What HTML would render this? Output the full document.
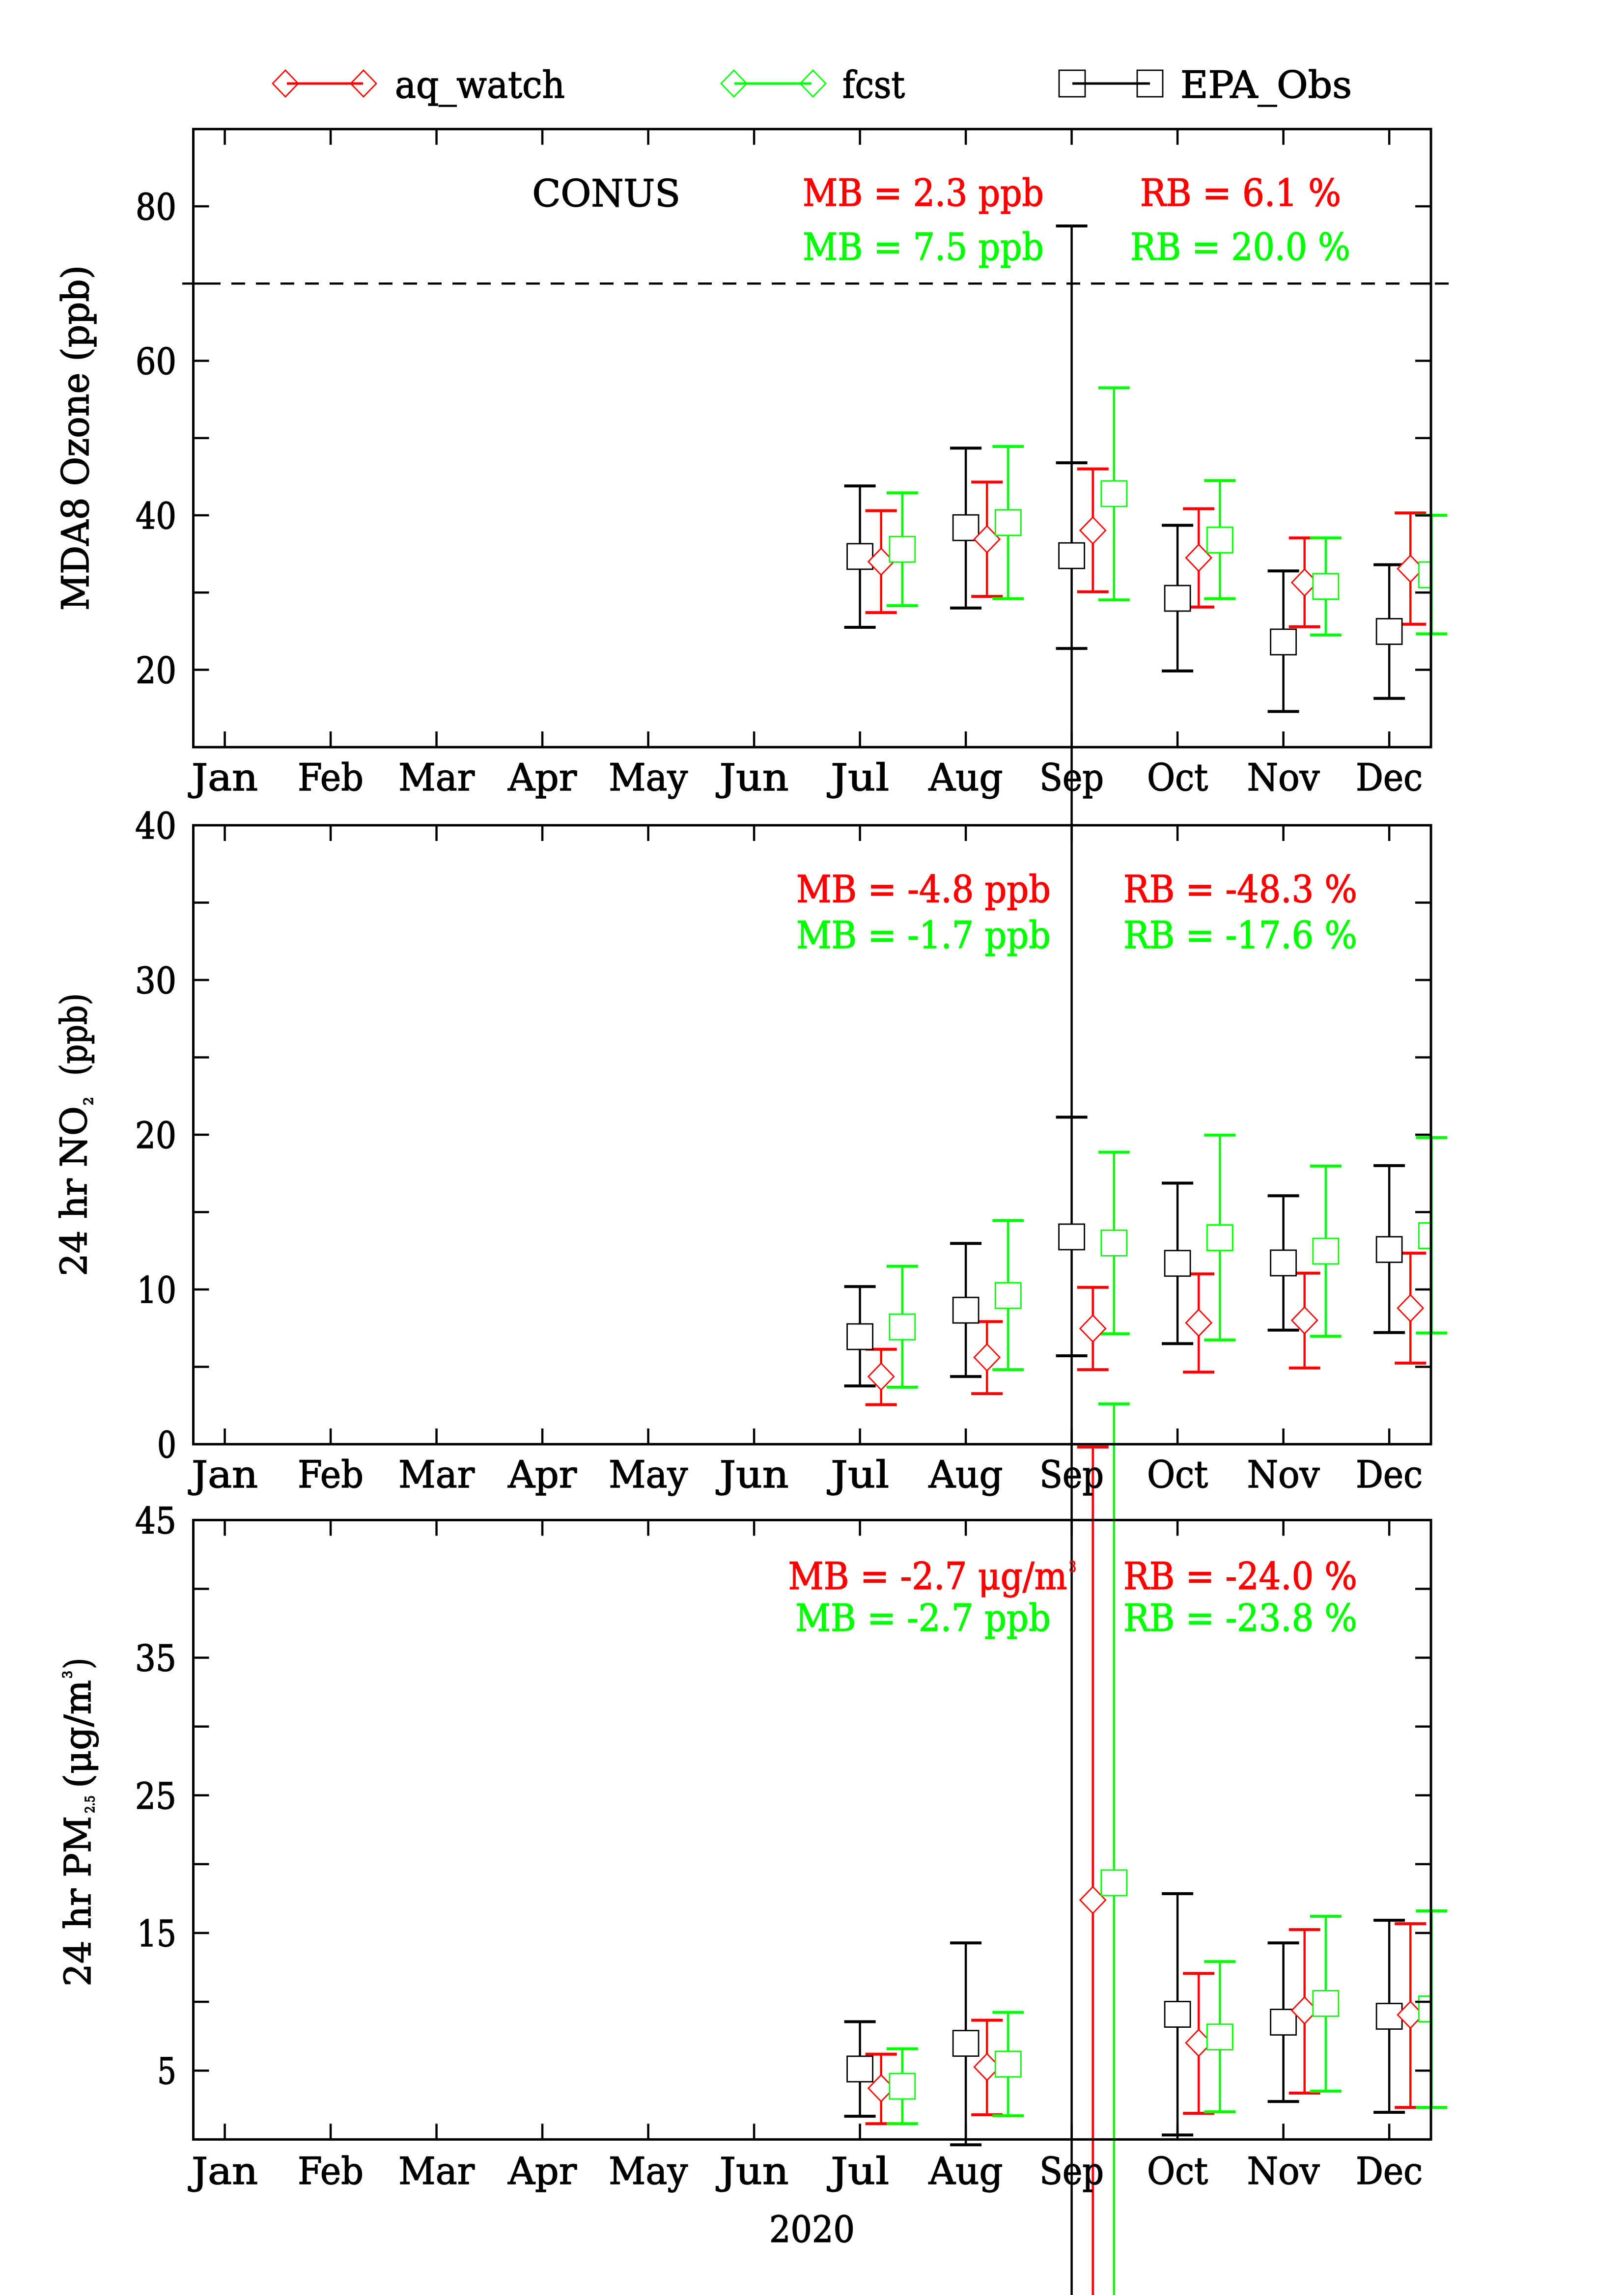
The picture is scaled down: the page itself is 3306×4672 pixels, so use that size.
<!DOCTYPE html>
<html><head><meta charset="utf-8"><style>
html,body{margin:0;padding:0;background:#fff;}
svg{display:block;}
text{font-family:"DejaVu Serif","Liberation Serif",serif;stroke-width:1.5px;}
</style></head><body>
<svg xmlns="http://www.w3.org/2000/svg" width="3306" height="4672" viewBox="0 0 3306 4672">
<rect width="3306" height="4672" fill="#fff"/>
<defs>
<clipPath id="c1"><rect x="393.5" y="262.75" width="2519.5" height="1258.25"/></clipPath>
<clipPath id="c2"><rect x="393.5" y="1680" width="2519.5" height="1260"/></clipPath>
<clipPath id="c3"><rect x="393.5" y="3094.4" width="2519.5" height="1260.9"/></clipPath>
</defs>

<line x1="371" y1="577.25" x2="2958" y2="577.25" stroke="#000" stroke-width="4.5" stroke-dasharray="28 22"/>

<g fill="none" stroke-width="4.5">
<path stroke="#000" d="M1750.6 989.2V1277M1966.1 912.2V1237.7M2181.6 942.1V1320.1M2397.1 1069.4V1365.9M2612.6 1162.2V1448.4M2828.1 1149.6V1421.7
M1750.6 2619.1V2821.4M1966.1 2531.2V2802.3M2181.6 2274.2V2760M2397.1 2408.5V2735.2M2612.6 2434.2V2707.8M2828.1 2372.9V2712.8
M1750.6 4115.6V4308.1M1966.1 3955.2V4366.3M2397.1 3855V4346.2M2612.6 3955.2V4278.1M2828.1 3909.1V4300.1
M2181.6 460V4672"/>
<path stroke="#ff0000" d="M1793.7 1039.6V1247.1M2009.2 981.4V1214.1M2224.7 954.6V1204.7M2440.2 1035.6V1235.7M2655.7 1095.1V1275.9M2871.2 1044.3V1270.7
M1793.7 2746.8V2859.5M2009.2 2690.4V2837.1M2224.7 2620.8V2788.2M2440.2 2593.4V2793.2M2655.7 2591.7V2784.9M2871.2 2551.1V2774.9
M1793.7 4181.8V4323.2M2009.2 4112.6V4305.1M2440.2 4017.4V4302.1M2655.7 3928.1V4261M2871.2 3916.1V4290.1
M2224.7 2945.7V4672"/>
<path stroke="#00ff00" d="M1836.8 1003.4V1233M2052.3 909V1218.8M2267.8 789.5V1221.2M2483.3 978.2V1218.8M2698.8 1095.1V1292.7M2914.3 1049V1290.4
M1836.8 2577.7V2823.9M2052.3 2484.8V2788.2M2267.8 2345.5V2715.3M2483.3 2310.7V2727.7M2698.8 2373.7V2720.2M2914.3 2315.7V2713.6
M1836.8 4170.8V4323.2M2052.3 4096.6V4307.1M2483.3 3993.3V4299.1M2698.8 3901.1V4257M2914.3 3890V4290.1
M2267.8 2857.9V4672"/>
</g>
<g fill="none" stroke-width="6">
<path stroke="#000" d="M1718.6 989.2h64M1718.6 1277h64M1934.1 912.2h64M1934.1 1237.7h64M2149.6 942.1h64M2149.6 1320.1h64M2365.1 1069.4h64M2365.1 1365.9h64M2580.6 1162.2h64M2580.6 1448.4h64M2796.1 1149.6h64M2796.1 1421.7h64
M1718.6 2619.1h64M1718.6 2821.4h64M1934.1 2531.2h64M1934.1 2802.3h64M2149.6 2274.2h64M2149.6 2760h64M2365.1 2408.5h64M2365.1 2735.2h64M2580.6 2434.2h64M2580.6 2707.8h64M2796.1 2372.9h64M2796.1 2712.8h64
M1718.6 4115.6h64M1718.6 4308.1h64M1934.1 3955.2h64M1934.1 4366.3h64M2365.1 3855h64M2365.1 4346.2h64M2580.6 3955.2h64M2580.6 4278.1h64M2796.1 3909.1h64M2796.1 4300.1h64
M2149.6 460h64"/>
<path stroke="#ff0000" d="M1761.7 1039.6h64M1761.7 1247.1h64M1977.2 981.4h64M1977.2 1214.1h64M2192.7 954.6h64M2192.7 1204.7h64M2408.2 1035.6h64M2408.2 1235.7h64M2623.7 1095.1h64M2623.7 1275.9h64M2839.2 1044.3h64M2839.2 1270.7h64
M1761.7 2746.8h64M1761.7 2859.5h64M1977.2 2690.4h64M1977.2 2837.1h64M2192.7 2620.8h64M2192.7 2788.2h64M2408.2 2593.4h64M2408.2 2793.2h64M2623.7 2591.7h64M2623.7 2784.9h64M2839.2 2551.1h64M2839.2 2774.9h64
M1761.7 4181.8h64M1761.7 4323.2h64M1977.2 4112.6h64M1977.2 4305.1h64M2408.2 4017.4h64M2408.2 4302.1h64M2623.7 3928.1h64M2623.7 4261h64M2839.2 3916.1h64M2839.2 4290.1h64
M2192.7 2945.7h64"/>
<path stroke="#00ff00" d="M1804.8 1003.4h64M1804.8 1233h64M2020.3 909h64M2020.3 1218.8h64M2235.8 789.5h64M2235.8 1221.2h64M2451.3 978.2h64M2451.3 1218.8h64M2666.8 1095.1h64M2666.8 1292.7h64M2882.3 1049h64M2882.3 1290.4h64
M1804.8 2577.7h64M1804.8 2823.9h64M2020.3 2484.8h64M2020.3 2788.2h64M2235.8 2345.5h64M2235.8 2715.3h64M2451.3 2310.7h64M2451.3 2727.7h64M2666.8 2373.7h64M2666.8 2720.2h64M2882.3 2315.7h64M2882.3 2713.6h64
M1804.8 4170.8h64M1804.8 4323.2h64M2020.3 4096.6h64M2020.3 4307.1h64M2451.3 3993.3h64M2451.3 4299.1h64M2666.8 3901.1h64M2666.8 4257h64M2882.3 3890h64M2882.3 4290.1h64
M2235.8 2857.9h64"/>
</g>

<g clip-path="url(#c1)" fill="#fff" stroke-width="2.8">
<g stroke="#000">
<rect x="1724.6" y="1106.8" width="52" height="52"/><rect x="1940.1" y="1048.2" width="52" height="52"/><rect x="2155.6" y="1105.2" width="52" height="52"/><rect x="2371.1" y="1192" width="52" height="52"/><rect x="2586.6" y="1280.9" width="52" height="52"/><rect x="2802.1" y="1259.5" width="52" height="52"/>
</g>
<g stroke="#ff0000">
<polygon points="1793.7,1116.4 1819.7,1143.4 1793.7,1170.4 1767.7,1143.4"/>
<polygon points="2009.2,1070.7 2035.2,1097.7 2009.2,1124.7 1983.2,1097.7"/>
<polygon points="2224.7,1052.8 2250.7,1079.8 2224.7,1106.8 2198.7,1079.8"/>
<polygon points="2440.2,1108.5 2466.2,1135.5 2440.2,1162.5 2414.2,1135.5"/>
<polygon points="2655.7,1158.8 2681.7,1185.8 2655.7,1212.8 2629.7,1185.8"/>
<polygon points="2871.2,1130.8 2897.2,1157.8 2871.2,1184.8 2845.2,1157.8"/>
</g>
<g stroke="#00ff00">
<rect x="1810.8" y="1092.2" width="52" height="52"/><rect x="2026.3" y="1037.8" width="52" height="52"/><rect x="2241.8" y="979" width="52" height="52"/><rect x="2457.3" y="1073.3" width="52" height="52"/><rect x="2672.8" y="1167.7" width="52" height="52"/><rect x="2888.3" y="1144.1" width="52" height="52"/>
</g>
</g>

<g clip-path="url(#c2)" fill="#fff" stroke-width="2.8">
<g stroke="#000">
<rect x="1724.6" y="2695.1" width="52" height="52"/><rect x="1940.1" y="2641.2" width="52" height="52"/><rect x="2155.6" y="2492" width="52" height="52"/><rect x="2371.1" y="2545.8" width="52" height="52"/><rect x="2586.6" y="2545" width="52" height="52"/><rect x="2802.1" y="2517.7" width="52" height="52"/>
</g>
<g stroke="#ff0000">
<polygon points="1793.7,2775.3 1819.7,2802.3 1793.7,2829.3 1767.7,2802.3"/>
<polygon points="2009.2,2736.3 2035.2,2763.3 2009.2,2790.3 1983.2,2763.3"/>
<polygon points="2224.7,2677.5 2250.7,2704.5 2224.7,2731.5 2198.7,2704.5"/>
<polygon points="2440.2,2665.9 2466.2,2692.9 2440.2,2719.9 2414.2,2692.9"/>
<polygon points="2655.7,2660.9 2681.7,2687.9 2655.7,2714.9 2629.7,2687.9"/>
<polygon points="2871.2,2636 2897.2,2663 2871.2,2690 2845.2,2663"/>
</g>
<g stroke="#00ff00">
<rect x="1810.8" y="2675.2" width="52" height="52"/><rect x="2026.3" y="2611.3" width="52" height="52"/><rect x="2241.8" y="2504.4" width="52" height="52"/><rect x="2457.3" y="2493.6" width="52" height="52"/><rect x="2672.8" y="2521" width="52" height="52"/><rect x="2888.3" y="2489.5" width="52" height="52"/>
</g>
</g>

<g clip-path="url(#c3)" fill="#fff" stroke-width="2.8">
<g stroke="#000">
<rect x="1724.6" y="4185.9" width="52" height="52"/><rect x="1940.1" y="4133.7" width="52" height="52"/><rect x="2371.1" y="4074.6" width="52" height="52"/><rect x="2586.6" y="4090.6" width="52" height="52"/><rect x="2802.1" y="4078.6" width="52" height="52"/>
</g>
<g stroke="#ff0000">
<polygon points="1793.7,4224 1819.7,4251 1793.7,4278 1767.7,4251"/>
<polygon points="2009.2,4180.9 2035.2,4207.9 2009.2,4234.9 1983.2,4207.9"/>
<polygon points="2224.7,3841 2250.7,3868 2224.7,3895 2198.7,3868"/>
<polygon points="2440.2,4131.7 2466.2,4158.7 2440.2,4185.7 2414.2,4158.7"/>
<polygon points="2655.7,4065.6 2681.7,4092.6 2655.7,4119.6 2629.7,4092.6"/>
<polygon points="2871.2,4074.6 2897.2,4101.6 2871.2,4128.6 2845.2,4101.6"/>
</g>
<g stroke="#00ff00">
<rect x="1810.8" y="4221" width="52" height="52"/><rect x="2026.3" y="4175.9" width="52" height="52"/><rect x="2241.8" y="3806.9" width="52" height="52"/><rect x="2457.3" y="4120.7" width="52" height="52"/><rect x="2672.8" y="4052.5" width="52" height="52"/><rect x="2888.3" y="4063.6" width="52" height="52"/>
</g>
</g>

<g fill="none" stroke="#000" stroke-width="5">
<rect x="393.5" y="262.75" width="2519.5" height="1258.25"/>
<rect x="393.5" y="1680" width="2519.5" height="1260"/>
<rect x="393.5" y="3094.4" width="2519.5" height="1260.9"/>
</g>
<g stroke="#000" stroke-width="4.5" fill="none">
<path d="M393.5 1363.5h32M393.5 1206.25h32M393.5 1049h32M393.5 891.75h32M393.5 734.5h32M393.5 577.25h32M393.5 420h32
M2913 1363.5h-32M2913 1206.25h-32M2913 1049h-32M2913 891.75h-32M2913 734.5h-32M2913 577.25h-32M2913 420h-32"/>
<path d="M393.5 2782.5h32M393.5 2625h32M393.5 2467.5h32M393.5 2310h32M393.5 2152.5h32M393.5 1995h32M393.5 1837.5h32
M2913 2782.5h-32M2913 2625h-32M2913 2467.5h-32M2913 2310h-32M2913 2152.5h-32M2913 1995h-32M2913 1837.5h-32"/>
<path d="M393.5 4215.2h32M393.5 4075.1h32M393.5 3935h32M393.5 3794.9h32M393.5 3654.8h32M393.5 3514.7h32M393.5 3374.6h32M393.5 3234.5h32
M2913 4215.2h-32M2913 4075.1h-32M2913 3935h-32M2913 3794.9h-32M2913 3654.8h-32M2913 3514.7h-32M2913 3374.6h-32M2913 3234.5h-32"/>
<path d="M457.6 1521v-32M673.1 1521v-32M888.6 1521v-32M1104.1 1521v-32M1319.6 1521v-32M1535.1 1521v-32M1750.6 1521v-32M1966.1 1521v-32M2181.6 1521v-32M2397.1 1521v-32M2612.6 1521v-32M2828.1 1521v-32
M457.6 262.75v32M673.1 262.75v32M888.6 262.75v32M1104.1 262.75v32M1319.6 262.75v32M1535.1 262.75v32M1750.6 262.75v32M1966.1 262.75v32M2181.6 262.75v32M2397.1 262.75v32M2612.6 262.75v32M2828.1 262.75v32"/>
<path d="M457.6 2940v-32M673.1 2940v-32M888.6 2940v-32M1104.1 2940v-32M1319.6 2940v-32M1535.1 2940v-32M1750.6 2940v-32M1966.1 2940v-32M2181.6 2940v-32M2397.1 2940v-32M2612.6 2940v-32M2828.1 2940v-32
M457.6 1680v32M673.1 1680v32M888.6 1680v32M1104.1 1680v32M1319.6 1680v32M1535.1 1680v32M1750.6 1680v32M1966.1 1680v32M2181.6 1680v32M2397.1 1680v32M2612.6 1680v32M2828.1 1680v32"/>
<path d="M457.6 4355.3v-32M673.1 4355.3v-32M888.6 4355.3v-32M1104.1 4355.3v-32M1319.6 4355.3v-32M1535.1 4355.3v-32M1750.6 4355.3v-32M1966.1 4355.3v-32M2181.6 4355.3v-32M2397.1 4355.3v-32M2612.6 4355.3v-32M2828.1 4355.3v-32
M457.6 3094.4v32M673.1 3094.4v32M888.6 3094.4v32M1104.1 3094.4v32M1319.6 3094.4v32M1535.1 3094.4v32M1750.6 3094.4v32M1966.1 3094.4v32M2181.6 3094.4v32M2397.1 3094.4v32M2612.6 3094.4v32M2828.1 3094.4v32"/>
</g>

<g fill="none" stroke-width="2.8">
<line x1="584" y1="170" x2="739" y2="170" stroke="#ff0000" stroke-width="5"/>
<polygon points="581,143 607,170 581,197 555,170" stroke="#ff0000"/>
<polygon points="740,143 766,170 740,197 714,170" stroke="#ff0000"/>
<line x1="1495" y1="170" x2="1652" y2="170" stroke="#00ff00" stroke-width="5"/>
<polygon points="1494,143 1520,170 1494,197 1468,170" stroke="#00ff00"/>
<polygon points="1655,143 1681,170 1655,197 1629,170" stroke="#00ff00"/>
<line x1="2183" y1="170" x2="2341" y2="170" stroke="#000" stroke-width="5"/>
<rect x="2156" y="143" width="53" height="54" stroke="#000"/>
<rect x="2315" y="143" width="52" height="54" stroke="#000"/>
</g>
<g font-size="76" fill="#000" stroke="#000">
<text x="804" y="199" textLength="346" lengthAdjust="spacingAndGlyphs">aq_watch</text>
<text x="1715" y="199" textLength="127" lengthAdjust="spacingAndGlyphs">fcst</text>
<text x="2403" y="199" textLength="349" lengthAdjust="spacingAndGlyphs">EPA_Obs</text>
</g>

<g font-size="76">
<text x="1083.5" y="420" fill="#000" stroke="#000" textLength="301.5" lengthAdjust="spacingAndGlyphs">CONUS</text>
<g fill="#ff0000" stroke="#ff0000">
<text x="1634" y="419" textLength="491" lengthAdjust="spacingAndGlyphs">MB = 2.3 ppb</text>
<text x="2321" y="419" textLength="409" lengthAdjust="spacingAndGlyphs">RB = 6.1 %</text>
<text x="1621" y="1836.5" textLength="518" lengthAdjust="spacingAndGlyphs">MB = -4.8 ppb</text>
<text x="2287" y="1836.5" textLength="476" lengthAdjust="spacingAndGlyphs">RB = -48.3 %</text>
<text x="1604.5" y="3235" textLength="568" lengthAdjust="spacingAndGlyphs">MB = -2.7 μg/m</text>
<text x="2176" y="3200" font-size="30" textLength="15" lengthAdjust="spacingAndGlyphs">3</text>
<text x="2287" y="3235" textLength="476" lengthAdjust="spacingAndGlyphs">RB = -24.0 %</text>
</g>
<g fill="#00ff00" stroke="#00ff00">
<text x="1634" y="529" textLength="491" lengthAdjust="spacingAndGlyphs">MB = 7.5 ppb</text>
<text x="2301" y="529" textLength="448" lengthAdjust="spacingAndGlyphs">RB = 20.0 %</text>
<text x="1621" y="1930" textLength="518" lengthAdjust="spacingAndGlyphs">MB = -1.7 ppb</text>
<text x="2287" y="1930" textLength="476" lengthAdjust="spacingAndGlyphs">RB = -17.6 %</text>
<text x="1619" y="3320" textLength="520" lengthAdjust="spacingAndGlyphs">MB = -2.7 ppb</text>
<text x="2287" y="3320" textLength="476" lengthAdjust="spacingAndGlyphs">RB = -23.8 %</text>
</g>
</g>

<g font-size="74" fill="#000" stroke="#000" text-anchor="end">
<text x="359" y="447" textLength="83" lengthAdjust="spacingAndGlyphs">80</text>
<text x="359" y="761.5" textLength="83" lengthAdjust="spacingAndGlyphs">60</text>
<text x="359" y="1076" textLength="83" lengthAdjust="spacingAndGlyphs">40</text>
<text x="359" y="1390.5" textLength="83" lengthAdjust="spacingAndGlyphs">20</text>
<text x="359" y="1707" textLength="84" lengthAdjust="spacingAndGlyphs">40</text>
<text x="359" y="2022" textLength="84" lengthAdjust="spacingAndGlyphs">30</text>
<text x="359" y="2337" textLength="84" lengthAdjust="spacingAndGlyphs">20</text>
<text x="359" y="2652" textLength="80" lengthAdjust="spacingAndGlyphs">10</text>
<text x="359" y="2967" textLength="39" lengthAdjust="spacingAndGlyphs">0</text>
<text x="359" y="3121.4" textLength="84" lengthAdjust="spacingAndGlyphs">45</text>
<text x="359" y="3401.6" textLength="84" lengthAdjust="spacingAndGlyphs">35</text>
<text x="359" y="3681.8" textLength="84" lengthAdjust="spacingAndGlyphs">25</text>
<text x="359" y="3962" textLength="80" lengthAdjust="spacingAndGlyphs">15</text>
<text x="359" y="4242.2" textLength="39" lengthAdjust="spacingAndGlyphs">5</text>
</g>

<g font-size="76" fill="#000" stroke="#000" text-anchor="middle">
<g transform="translate(0,1609)">
<text x="457.6" textLength="135" lengthAdjust="spacingAndGlyphs">Jan</text>
<text x="673.1" textLength="134" lengthAdjust="spacingAndGlyphs">Feb</text>
<text x="888.6" textLength="155" lengthAdjust="spacingAndGlyphs">Mar</text>
<text x="1104.1" textLength="140" lengthAdjust="spacingAndGlyphs">Apr</text>
<text x="1319.6" textLength="161" lengthAdjust="spacingAndGlyphs">May</text>
<text x="1535.1" textLength="141" lengthAdjust="spacingAndGlyphs">Jun</text>
<text x="1750.6" textLength="119" lengthAdjust="spacingAndGlyphs">Jul</text>
<text x="1966.1" textLength="151" lengthAdjust="spacingAndGlyphs">Aug</text>
<text x="2181.6" textLength="131" lengthAdjust="spacingAndGlyphs">Sep</text>
<text x="2397.1" textLength="124" lengthAdjust="spacingAndGlyphs">Oct</text>
<text x="2612.6" textLength="148" lengthAdjust="spacingAndGlyphs">Nov</text>
<text x="2828.1" textLength="136" lengthAdjust="spacingAndGlyphs">Dec</text>
</g>
<g transform="translate(0,3028)">
<text x="457.6" textLength="135" lengthAdjust="spacingAndGlyphs">Jan</text>
<text x="673.1" textLength="134" lengthAdjust="spacingAndGlyphs">Feb</text>
<text x="888.6" textLength="155" lengthAdjust="spacingAndGlyphs">Mar</text>
<text x="1104.1" textLength="140" lengthAdjust="spacingAndGlyphs">Apr</text>
<text x="1319.6" textLength="161" lengthAdjust="spacingAndGlyphs">May</text>
<text x="1535.1" textLength="141" lengthAdjust="spacingAndGlyphs">Jun</text>
<text x="1750.6" textLength="119" lengthAdjust="spacingAndGlyphs">Jul</text>
<text x="1966.1" textLength="151" lengthAdjust="spacingAndGlyphs">Aug</text>
<text x="2181.6" textLength="131" lengthAdjust="spacingAndGlyphs">Sep</text>
<text x="2397.1" textLength="124" lengthAdjust="spacingAndGlyphs">Oct</text>
<text x="2612.6" textLength="148" lengthAdjust="spacingAndGlyphs">Nov</text>
<text x="2828.1" textLength="136" lengthAdjust="spacingAndGlyphs">Dec</text>
</g>
<g transform="translate(0,4446)">
<text x="457.6" textLength="135" lengthAdjust="spacingAndGlyphs">Jan</text>
<text x="673.1" textLength="134" lengthAdjust="spacingAndGlyphs">Feb</text>
<text x="888.6" textLength="155" lengthAdjust="spacingAndGlyphs">Mar</text>
<text x="1104.1" textLength="140" lengthAdjust="spacingAndGlyphs">Apr</text>
<text x="1319.6" textLength="161" lengthAdjust="spacingAndGlyphs">May</text>
<text x="1535.1" textLength="141" lengthAdjust="spacingAndGlyphs">Jun</text>
<text x="1750.6" textLength="119" lengthAdjust="spacingAndGlyphs">Jul</text>
<text x="1966.1" textLength="151" lengthAdjust="spacingAndGlyphs">Aug</text>
<text x="2181.6" textLength="131" lengthAdjust="spacingAndGlyphs">Sep</text>
<text x="2397.1" textLength="124" lengthAdjust="spacingAndGlyphs">Oct</text>
<text x="2612.6" textLength="148" lengthAdjust="spacingAndGlyphs">Nov</text>
<text x="2828.1" textLength="136" lengthAdjust="spacingAndGlyphs">Dec</text>
</g>
</g>
<text x="1566" y="4564" font-size="74" fill="#000" stroke="#000" textLength="174" lengthAdjust="spacingAndGlyphs">2020</text>

<g fill="#000" stroke="#000">
<text transform="translate(180,1243) rotate(-90)" font-size="76" textLength="703" lengthAdjust="spacingAndGlyphs">MDA8 Ozone (ppb)</text>
<text transform="translate(176,2598) rotate(-90)" font-size="74" textLength="346" lengthAdjust="spacingAndGlyphs">24 hr NO</text>
<text transform="translate(189,2250) rotate(-90)" font-size="26" textLength="17" lengthAdjust="spacingAndGlyphs">2</text>
<text transform="translate(176,2190) rotate(-90)" font-size="74" textLength="168" lengthAdjust="spacingAndGlyphs">(ppb)</text>
<text transform="translate(184,4044) rotate(-90)" font-size="74" textLength="347" lengthAdjust="spacingAndGlyphs">24 hr PM</text>
<text transform="translate(192,3691) rotate(-90)" font-size="26" textLength="36" lengthAdjust="spacingAndGlyphs">2.5</text>
<text transform="translate(184,3640) rotate(-90)" font-size="74" textLength="220" lengthAdjust="spacingAndGlyphs">(μg/m</text>
<text transform="translate(146,3417) rotate(-90)" font-size="26" textLength="16" lengthAdjust="spacingAndGlyphs">3</text>
<text transform="translate(184,3398) rotate(-90)" font-size="74" textLength="23" lengthAdjust="spacingAndGlyphs">)</text>
</g>
</svg>
</body></html>
